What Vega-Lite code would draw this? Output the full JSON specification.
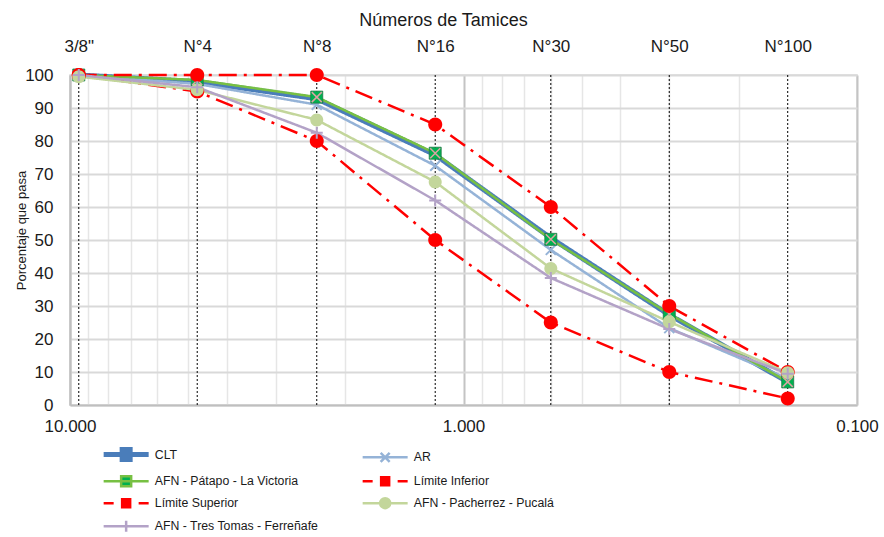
{
  "$schema": "https://vega.github.io/schema/vega-lite/v6.json",
  "width": 787,
  "height": 330,
  "autosize": {"type": "none"},
  "padding": {"left": 70, "top": 75, "right": 27, "bottom": 132},
  "config": {
    "font": "Liberation Sans",
    "view": {"stroke": "#d9d9d9", "strokeWidth": 1.5},
    "axis": {"labelColor": "#1a1a1a", "titleColor": "#1a1a1a", "titleFontWeight": "normal", "ticks": false}
  },
  "datasets": {
    "sieves": [
      {"sieve": "3/8\"", "size": 9.5},
      {"sieve": "N°4", "size": 4.75},
      {"sieve": "N°8", "size": 2.36},
      {"sieve": "N°16", "size": 1.18},
      {"sieve": "N°30", "size": 0.6},
      {"sieve": "N°50", "size": 0.3},
      {"sieve": "N°100", "size": 0.15}
    ],
    "curves": [
      {"series": "CLT", "size": 9.5, "pct": 100},
      {"series": "CLT", "size": 4.75, "pct": 98},
      {"series": "CLT", "size": 2.36, "pct": 92.8},
      {"series": "CLT", "size": 1.18, "pct": 75.8},
      {"series": "CLT", "size": 0.6, "pct": 50.6},
      {"series": "CLT", "size": 0.3, "pct": 27.3},
      {"series": "CLT", "size": 0.15, "pct": 7},
      {"series": "AR", "size": 9.5, "pct": 100},
      {"series": "AR", "size": 4.75, "pct": 97.3},
      {"series": "AR", "size": 2.36, "pct": 91},
      {"series": "AR", "size": 1.18, "pct": 72.5},
      {"series": "AR", "size": 0.6, "pct": 47},
      {"series": "AR", "size": 0.3, "pct": 23.3},
      {"series": "AR", "size": 0.15, "pct": 8},
      {"series": "AFN - Pátapo - La Victoria", "size": 9.5, "pct": 100},
      {"series": "AFN - Pátapo - La Victoria", "size": 4.75, "pct": 98.5},
      {"series": "AFN - Pátapo - La Victoria", "size": 2.36, "pct": 93.3},
      {"series": "AFN - Pátapo - La Victoria", "size": 1.18, "pct": 76.3},
      {"series": "AFN - Pátapo - La Victoria", "size": 0.6, "pct": 50.2},
      {"series": "AFN - Pátapo - La Victoria", "size": 0.3, "pct": 27.6},
      {"series": "AFN - Pátapo - La Victoria", "size": 0.15, "pct": 7},
      {"series": "Límite Inferior", "size": 9.5, "pct": 100},
      {"series": "Límite Inferior", "size": 4.75, "pct": 95},
      {"series": "Límite Inferior", "size": 2.36, "pct": 80},
      {"series": "Límite Inferior", "size": 1.18, "pct": 50},
      {"series": "Límite Inferior", "size": 0.6, "pct": 25},
      {"series": "Límite Inferior", "size": 0.3, "pct": 10},
      {"series": "Límite Inferior", "size": 0.15, "pct": 2},
      {"series": "Límite Superior", "size": 9.5, "pct": 100},
      {"series": "Límite Superior", "size": 4.75, "pct": 100},
      {"series": "Límite Superior", "size": 2.36, "pct": 100},
      {"series": "Límite Superior", "size": 1.18, "pct": 85},
      {"series": "Límite Superior", "size": 0.6, "pct": 60},
      {"series": "Límite Superior", "size": 0.3, "pct": 30},
      {"series": "Límite Superior", "size": 0.15, "pct": 10},
      {"series": "AFN - Pacherrez - Pucalá", "size": 9.5, "pct": 99.5},
      {"series": "AFN - Pacherrez - Pucalá", "size": 4.75, "pct": 95.5},
      {"series": "AFN - Pacherrez - Pucalá", "size": 2.36, "pct": 86.4},
      {"series": "AFN - Pacherrez - Pucalá", "size": 1.18, "pct": 67.6},
      {"series": "AFN - Pacherrez - Pucalá", "size": 0.6, "pct": 41.4},
      {"series": "AFN - Pacherrez - Pucalá", "size": 0.3, "pct": 25.2},
      {"series": "AFN - Pacherrez - Pucalá", "size": 0.15, "pct": 9.8},
      {"series": "AFN - Tres Tomas - Ferreñafe", "size": 9.5, "pct": 100},
      {"series": "AFN - Tres Tomas - Ferreñafe", "size": 4.75, "pct": 96.3},
      {"series": "AFN - Tres Tomas - Ferreñafe", "size": 2.36, "pct": 82.5},
      {"series": "AFN - Tres Tomas - Ferreñafe", "size": 1.18, "pct": 62},
      {"series": "AFN - Tres Tomas - Ferreñafe", "size": 0.6, "pct": 38.5},
      {"series": "AFN - Tres Tomas - Ferreñafe", "size": 0.3, "pct": 23},
      {"series": "AFN - Tres Tomas - Ferreñafe", "size": 0.15, "pct": 9.5}
    ]
  },
  "layer": [
    {
      "data": {"name": "sieves"},
      "mark": {"type": "rule", "color": "#000000", "strokeWidth": 1, "strokeDash": [2, 2]},
      "encoding": {
        "x": {
          "field": "size", "type": "quantitative",
          "scale": {"type": "log", "domain": [0.1, 10], "reverse": true, "nice": false},
          "axis": {
            "orient": "top",
            "values": [9.5, 4.75, 2.36, 1.18, 0.6, 0.3, 0.15],
            "labelExpr": "datum.value === 9.5 ? '3/8\"' : datum.value === 4.75 ? 'N°4' : datum.value === 2.36 ? 'N°8' : datum.value === 1.18 ? 'N°16' : datum.value === 0.6 ? 'N°30' : datum.value === 0.3 ? 'N°50' : 'N°100'",
            "labelFontSize": 17,
            "labelPadding": 20,
            "labelFlush": false,
            "labelOverlap": false,
            "grid": false,
            "domain": false,
            "title": "Números de Tamices",
            "titleFontSize": 18,
            "titlePadding": 8,
            "titleX": 373
          }
        }
      }
    },
    {
      "data": {"name": "curves"},
      "encoding": {
        "x": {
          "field": "size", "type": "quantitative",
          "scale": {"type": "log", "domain": [0.1, 10], "reverse": true, "nice": false},
          "axis": {
            "orient": "bottom",
            "values": [10, 9, 8, 7, 6, 5, 4, 3, 2, 1, 0.9, 0.8, 0.7, 0.6, 0.5, 0.4, 0.3, 0.2, 0.1],
            "labelExpr": "datum.value === 10 || datum.value === 1 || datum.value === 0.1 ? format(datum.value, '.3f') : ''",
            "labelFontSize": 17,
            "labelPadding": 13,
            "labelFlush": false,
            "labelOverlap": false,
            "grid": true,
            "gridColor": {"condition": {"test": "datum.value === 1 || datum.value === 10 || datum.value === 0.1", "value": "#c4c4c4"}, "value": "#e6e6e6"},
            "gridWidth": {"condition": {"test": "datum.value === 1 || datum.value === 10 || datum.value === 0.1", "value": 2}, "value": 1.5},
            "domainColor": "#bfbfbf",
            "domainWidth": 2,
            "title": null
          }
        },
        "y": {
          "field": "pct", "type": "quantitative",
          "scale": {"domain": [0, 100], "nice": false},
          "axis": {
            "values": [0, 10, 20, 30, 40, 50, 60, 70, 80, 90, 100],
            "labelFontSize": 17,
            "labelPadding": 17,
            "labelOverlap": false,
            "gridColor": "#d9d9d9",
            "gridWidth": 2,
            "domainColor": "#bfbfbf",
            "domainWidth": 2,
            "title": "Porcentaje que pasa",
            "titleFontSize": 13,
            "titlePadding": -4,
            "titleY": 155
          }
        }
      },
      "layer": [
        {
          "mark": {"type": "line", "strokeCap": "butt"},
          "encoding": {
            "color": {
              "field": "series", "type": "nominal",
              "scale": {
                "domain": ["CLT", "AR", "AFN - Pátapo - La Victoria", "Límite Inferior", "Límite Superior", "AFN - Pacherrez - Pucalá", "AFN - Tres Tomas - Ferreñafe"],
                "range": ["#4a7dba", "#95b3d7", "#77c043", "#ff0000", "#ff0000", "#c3d69b", "#b3a2c7"]
              },
              "legend": {
                "orient": "none",
                "direction": "horizontal",
                "legendX": 50,
                "legendY": 373,
                "columns": 2,
                "columnPadding": 38,
                "rowPadding": 1,
                "padding": 0,
                "title": null,
                "symbolSize": 100,
                "labelOffset": 22.5,
                "labelFontSize": 12.3,
                "labelColor": "#1a1a1a",
                "labelLimit": 400,
                "encode": {
                  "symbols": {
                    "update": {
                      "shape": {"signal": "datum.value === 'CLT' ? 'M-4.5,0H4.5M-0.8,-1H0.8V1H-0.8Z' : datum.value === 'AR' ? 'M-4.5,0H4.5M-0.9,-0.9L0.9,0.9M-0.9,0.9L0.9,-0.9' : datum.value === 'AFN - Pátapo - La Victoria' ? 'M-4.5,0H4.5M-1,-1H1V1H-1Z' : indexof(datum.value, 'Límite') === 0 ? 'M-4.5,0H-2.5M2.5,0H4.5M-0.8,-0.8H0.8V0.8H-0.8Z' : datum.value === 'AFN - Pacherrez - Pucalá' ? 'M-4.5,0H4.5M-1,0A1,1 0 1,1 1,0A1,1 0 1,1 -1,0Z' : 'M-4.5,0H4.5M0,-1.1V1.1'"},
                      "fill": {"signal": "datum.value === 'CLT' ? '#1f3864' : datum.value === 'AFN - Pátapo - La Victoria' ? '#00b050' : indexof(datum.value, 'Límite') === 0 ? '#ff0000' : datum.value === 'AFN - Pacherrez - Pucalá' ? '#c3d69b' : 'transparent'"},
                      "stroke": {"signal": "scale('color', datum.value)"},
                      "strokeWidth": {"signal": "datum.value === 'CLT' ? 5 : 2.5"},
                      "opacity": {"value": 1}
                    }
                  }
                }
              }
            },
            "strokeWidth": {"condition": {"test": "datum.series === 'CLT'", "value": 5}, "value": 2.5},
            "strokeDash": {"condition": {"test": "indexof(datum.series, 'Límite') === 0", "value": [18, 7, 3, 7]}, "value": [1, 0]}
          }
        },
        {
          "transform": [{"filter": "datum.series === 'CLT'"}],
          "mark": {"type": "point", "shape": "M-0.8,-0.8H0.8V0.8H-0.8Z", "size": 100, "filled": true, "fill": "#1f3864", "opacity": 1}
        },
        {
          "transform": [{"filter": "datum.series === 'AR'"}],
          "mark": {"type": "point", "shape": "M-1,-1L1,1M-1,1L1,-1", "size": 100, "filled": false, "stroke": "#95b3d7", "strokeWidth": 2, "opacity": 1}
        },
        {
          "transform": [{"filter": "datum.series === 'AFN - Pátapo - La Victoria'"}],
          "mark": {"type": "point", "shape": "M-1.2,-1.2H1.2V1.2H-1.2Z", "size": 100, "filled": true, "fill": "#00b050", "stroke": "#1f7a45", "strokeWidth": 0.8, "opacity": 1}
        },
        {
          "transform": [{"filter": "datum.series === 'AFN - Pátapo - La Victoria'"}],
          "mark": {"type": "point", "shape": "M-1,-1L1,1M-1,1L1,-1", "size": 100, "filled": false, "stroke": "#dba3a3", "strokeWidth": 1.5, "opacity": 1}
        },
        {
          "transform": [{"filter": "indexof(datum.series, 'Límite') === 0"}],
          "mark": {"type": "point", "shape": "M-1.4,0A1.4,1.4 0 1,1 1.4,0A1.4,1.4 0 1,1 -1.4,0Z", "size": 100, "filled": true, "fill": "#ff0000", "opacity": 1}
        },
        {
          "transform": [{"filter": "datum.series === 'AFN - Pacherrez - Pucalá'"}],
          "mark": {"type": "point", "shape": "M-1.3,0A1.3,1.3 0 1,1 1.3,0A1.3,1.3 0 1,1 -1.3,0Z", "size": 100, "filled": true, "fill": "#c3d69b", "opacity": 1}
        },
        {
          "transform": [{"filter": "datum.series === 'AFN - Tres Tomas - Ferreñafe'"}],
          "mark": {"type": "point", "shape": "M-1.2,0H1.2M0,-1.2V1.2", "size": 100, "filled": false, "stroke": "#b3a2c7", "strokeWidth": 2, "opacity": 1}
        }
      ]
    }
  ],
  "resolve": {"axis": {"x": "independent"}}
}
